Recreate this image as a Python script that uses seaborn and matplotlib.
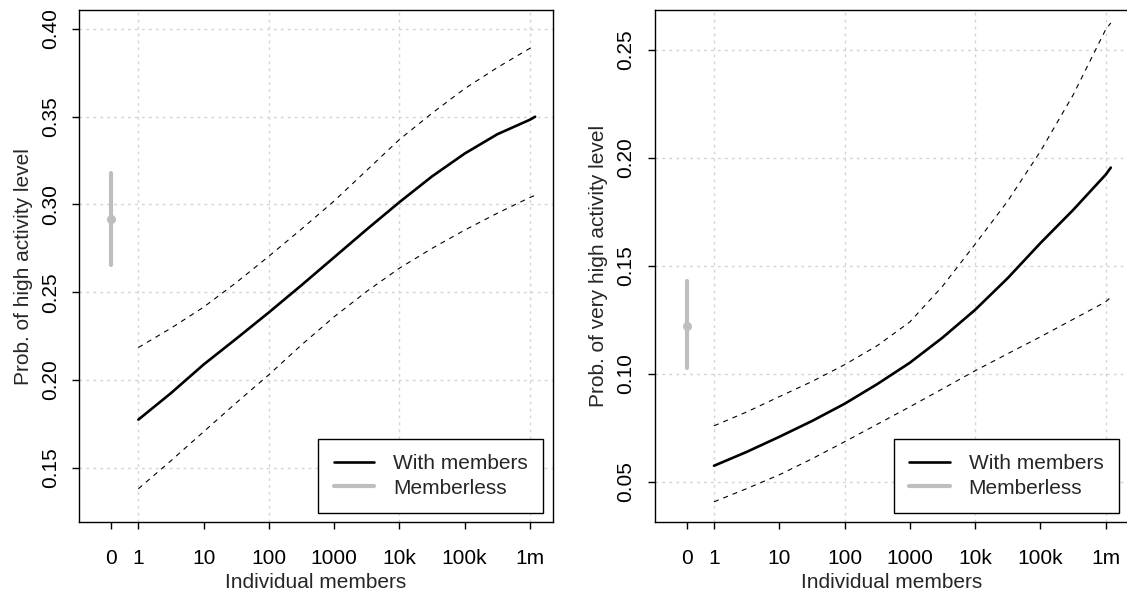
import numpy as np
import pandas as pd
import seaborn as sns
import matplotlib
matplotlib.use("Agg")
import matplotlib.pyplot as plt

# ---- data (readings at every half decade) ----
members = [1, 3.16, 10, 31.6, 100, 316, 1000, 3160, 1e4, 3.16e4,
           1e5, 3.16e5, 1e6, 1.2e6]
tick_values = [0, 1, 10, 100, 1000, 1e4, 1e5, 1e6]
tick_labels = ["0", "1", "10", "100", "1000", "10k", "100k", "1m"]
grid_values = [1, 100, 1e4, 1e6]

high_fit = [0.1774, 0.1925, 0.2088, 0.2235, 0.2385, 0.2540, 0.2699,
            0.2858, 0.3013, 0.3160, 0.3290, 0.3400, 0.3483, 0.3500]
high_upper = [0.2185, 0.2295, 0.2415, 0.2555, 0.2705, 0.2860, 0.3020,
              0.3195, 0.3370, 0.3520, 0.3660, 0.3780, 0.3890, 0.3905]
high_lower = [0.1380, 0.1540, 0.1705, 0.1870, 0.2030, 0.2200, 0.2360,
              0.2505, 0.2637, 0.2750, 0.2854, 0.2950, 0.3040, 0.3052]
high_memberless = [0.2915, 0.2655, 0.3177]   # estimate, low, high

vhigh_fit = [0.0574, 0.0638, 0.0708, 0.0781, 0.0861, 0.0952, 0.1051,
             0.1167, 0.1296, 0.1443, 0.1605, 0.1758, 0.1922, 0.1955]
vhigh_upper = [0.0759, 0.0823, 0.0894, 0.0964, 0.1042, 0.1130, 0.1240,
               0.1405, 0.1600, 0.1800, 0.2030, 0.2290, 0.2594, 0.2625]
vhigh_lower = [0.0407, 0.0468, 0.0532, 0.0606, 0.0685, 0.0766, 0.0847,
               0.0930, 0.1014, 0.1093, 0.1171, 0.1252, 0.1333, 0.1355]
vhigh_memberless = [0.1222, 0.1025, 0.1429]

high_yticks = [0.15, 0.20, 0.25, 0.30, 0.35, 0.40]
vhigh_yticks = [0.05, 0.10, 0.15, 0.20, 0.25]

ZERO_POS = -0.42   # where "0 members" sits on the log axis


def xpos(v):
    v = np.asarray(v, dtype=float)
    out = np.full(v.shape, ZERO_POS)
    out[v > 0] = np.log10(v[v > 0])
    return out


sns.set_theme(style="white")
plt.rcParams['font.family'] = ['Liberation Sans', 'DejaVu Sans']
plt.rcParams['font.size'] = 15

fig = plt.figure(figsize=(11.27, 5.92), dpi=100)
ax1 = fig.add_axes([0.0704, 0.1177, 0.4201, 0.8654])
ax2 = fig.add_axes([0.5812, 0.1177, 0.4201, 0.8654])

panels = [
    (ax1, high_fit, high_upper, high_lower, high_memberless, high_yticks,
     (0.1189, 0.4108), "Prob. of high activity level"),
    (ax2, vhigh_fit, vhigh_upper, vhigh_lower, vhigh_memberless, vhigh_yticks,
     (0.0312, 0.2685), "Prob. of very high activity level"),
]

gray = "#bebebe"
for ax, fit, up, lo, ml, yt, ylim, ylab in panels:
    df = pd.DataFrame({"x": xpos(members), "fit": fit, "up": up, "lo": lo})

    # grid first so it sits underneath
    for g in xpos(grid_values):
        ax.axvline(g, color="#d3d3d3", lw=1, ls=(0, (2, 3)), zorder=0)
    for g in yt:
        ax.axhline(g, color="#d3d3d3", lw=1, ls=(0, (2, 3)), zorder=0)

    sns.lineplot(data=df, x="x", y="up", ax=ax, color="black", lw=0.8,
                 linestyle=(0, (4.5, 4.5)))
    sns.lineplot(data=df, x="x", y="lo", ax=ax, color="black", lw=0.8,
                 linestyle=(0, (4.5, 4.5)))
    sns.lineplot(data=df, x="x", y="fit", ax=ax, color="black", lw=1.9,
                 label="With members", solid_joinstyle="round")

    zx = xpos([0])[0]
    ax.plot([zx, zx], [ml[1], ml[2]], color=gray, lw=3, solid_capstyle="round",
            label="Memberless")
    ax.plot([zx], [ml[0]], "o", color=gray, ms=5.5)

    ax.set_xlim(-0.904, 6.35)
    ax.set_ylim(*ylim)
    ax.set_xticks(xpos(tick_values))
    ax.set_xticklabels(tick_labels)
    ax.set_yticks(yt)
    ax.set_yticklabels(["%.2f" % v for v in yt], rotation=90, va="center")
    ax.tick_params(axis="both", direction="out", length=5, width=1,
                   color="black", labelsize=15, labelcolor="black",
                   bottom=True, left=True)
    ax.tick_params(axis="x", pad=14.5)
    ax.tick_params(axis="y", pad=9)
    ax.set_xlabel("Individual members", fontsize=15, labelpad=3)
    ax.set_ylabel(ylab, fontsize=15, labelpad=6)
    for s in ax.spines.values():
        s.set_color("black")
        s.set_linewidth(1.0)

    leg = ax.legend(loc="lower right", bbox_to_anchor=(0.98, 0.0176),
                    fontsize=15, frameon=True, fancybox=False,
                    handlelength=1.95, handletextpad=0.9, labelspacing=0.25,
                    borderpad=0.75, borderaxespad=0.0)
    leg.get_frame().set_edgecolor("black")
    leg.get_frame().set_linewidth(1.0)
    leg.get_frame().set_alpha(1)
    hl = leg.get_lines()
    hl[0].set_linewidth(1.9)
    hl[1].set_linewidth(3)

fig.savefig("out.png", dpi=100)
